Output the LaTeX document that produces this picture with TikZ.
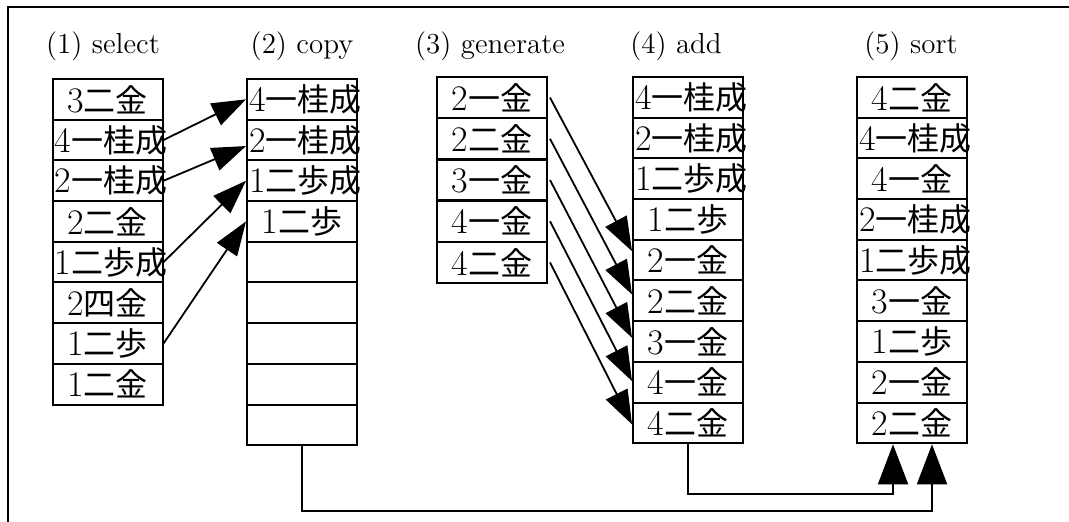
\documentclass[tikz,border=0pt]{standalone}
\usepackage{fontspec}
\newfontfamily\jp{Noto Sans CJK JP}
\usetikzlibrary{arrows.meta,positioning}
\tikzset{
  cell/.style={rectangle, draw=black, line width=1pt, minimum width=55pt,
               minimum height=20.35pt, inner sep=0pt, font=\fontsize{18}{18}\selectfont},
  head/.style={font=\fontsize{14.5}{16}\selectfont},
  move/.style={-{Triangle[length=17pt, width=12pt]}, line width=0.9pt},
  merge/.style={-{Triangle[length=20pt, width=15pt]}, line width=0.9pt},
}
% fixed-width box: short moves are centred, long ones run out on the right
\newcommand{\koma}[2]{\hbox to 55pt{\hskip 1pt plus 1fil\relax
  #1{\jp\fontsize{16}{16}\selectfont #2}\hskip 1pt plus 1fil minus 1fil\relax}}

\begin{document}
\begin{tikzpicture}[x=0.5pt, y=-0.5pt]
  \useasboundingbox (0,0) rectangle (1069,522);
  \draw[line width=1pt] (8,522) -- (8,7) -- (1069,7);

  % column titles
  \node[head] (tsel) at (103,46) {(1) select};
  \node[head] (tcpy) at (302,46) {(2) copy};
  \node[head] (tgen) at (490,46) {(3) generate};
  \node[head] (tadd) at (676,46) {(4) add};
  \node[head] (tsrt) at (911,46) {(5) sort};

  % the move lists
  \foreach \d/\k [count=\i] in {3/二金, 4/一桂成, 2/一桂成, 2/二金, 1/二歩成, 2/四金, 1/二歩, 1/二金}
    \node[cell] (sel\i) at (107.5, {79+40.7*(\i-0.5)}) {\koma{\d}{\k}};
  \foreach \d/\k [count=\i] in {4/一桂成, 2/一桂成, 1/二歩成, 1/二歩}
    \node[cell] (cpy\i) at (302, {79+40.7*(\i-0.5)}) {\koma{\d}{\k}};
  \foreach \i in {5,...,9}
    \node[cell] (cpy\i) at (302, {79+40.7*(\i-0.5)}) {};
  \foreach \d/\k [count=\i] in {2/一金, 2/二金, 3/一金, 4/一金, 4/二金}
    \node[cell] (gen\i) at (492, {77+41.2*(\i-0.5)}) {\koma{\d}{\k}};
  \foreach \d/\k [count=\i] in {4/一桂成, 2/一桂成, 1/二歩成, 1/二歩, 2/一金, 2/二金, 3/一金, 4/一金, 4/二金}
    \node[cell] (add\i) at (688, {77+40.7*(\i-0.5)}) {\koma{\d}{\k}};
  \foreach \d/\k [count=\i] in {4/二金, 4/一桂成, 4/一金, 2/一桂成, 1/二歩成, 3/一金, 1/二歩, 2/一金, 2/二金}
    \node[cell] (srt\i) at (912, {77+40.7*(\i-0.5)}) {\koma{\d}{\k}};

  % select -> copy
  \draw[move] (sel2.east) -- (cpy1.west);
  \draw[move] (sel3.east) -- ([yshift=-3pt]cpy2.west);
  \draw[move] (sel5.east) -- (cpy3.west);
  \draw[move] (sel7.east) -- (cpy4.west);

  % generate -> add
  \foreach \i [evaluate=\i as \j using int(\i+4),
               evaluate=\i as \s using 4.5-1.3*(\i-1)] in {1,...,5}
    \draw[move] ([xshift=1pt]gen\i.east) -- ([yshift=\s pt]add\j.west);

  % both lists into sort
  \draw[merge] (add9.south) -- ++(0,50) -| ([xshift=-9.5pt]srt9.south);
  \draw[merge] (cpy9.south) -- ++(0,65) -| ([xshift=10pt]srt9.south);
\end{tikzpicture}
\end{document}
